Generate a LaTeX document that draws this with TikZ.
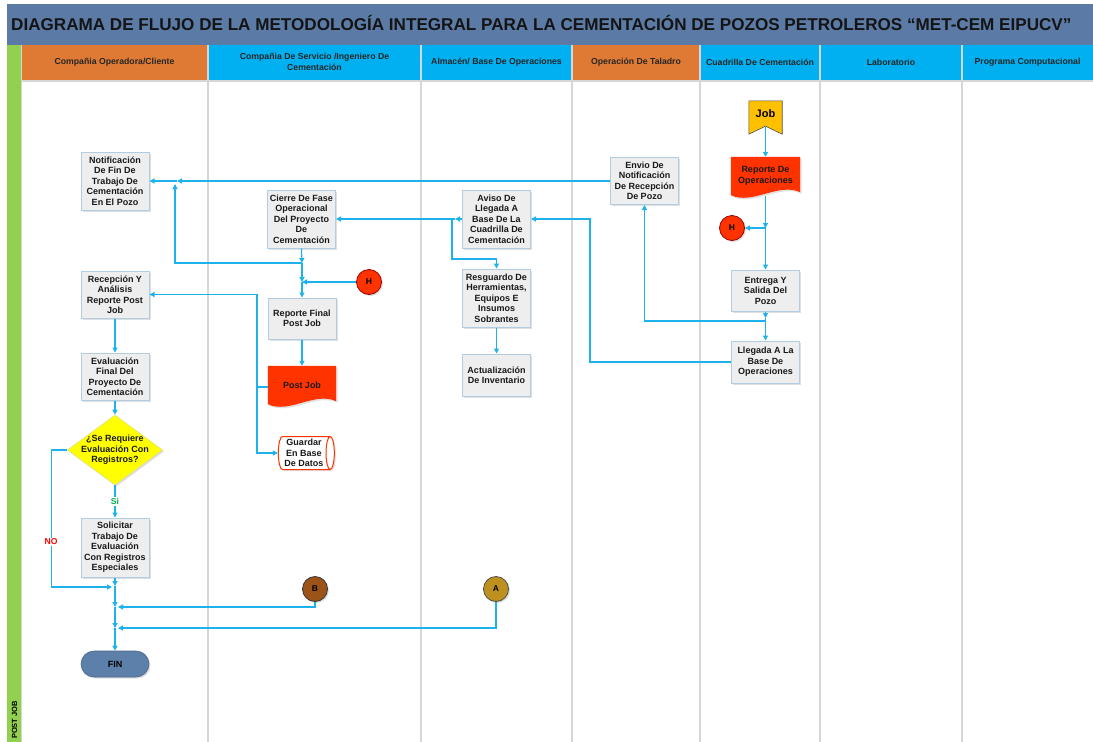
\documentclass[tikz,border=0pt]{standalone}
\usepackage{fontspec}
\setmainfont{Liberation Sans}
\usetikzlibrary{arrows.meta,shapes.geometric,shadows}
\definecolor{titleblue}{RGB}{91,123,166}
\definecolor{hdrorange}{RGB}{222,122,52}
\definecolor{hdrblue}{RGB}{0,176,240}
\definecolor{stripgreen}{RGB}{146,208,80}
\definecolor{lanegray}{RGB}{214,214,214}
\definecolor{boxfill}{RGB}{238,238,238}
\definecolor{boxdraw}{RGB}{178,204,226}
\definecolor{conncol}{RGB}{30,178,236}
\definecolor{docred}{RGB}{255,51,0}
\definecolor{bbrown}{RGB}{156,83,24}
\definecolor{agold}{RGB}{190,144,32}
\definecolor{jobyellow}{RGB}{255,192,0}
\definecolor{finblue}{RGB}{93,128,171}
\definecolor{siggreen}{RGB}{0,176,80}
\definecolor{diayellow}{RGB}{255,255,0}
\pgfdeclarelayer{lanes}
\pgfdeclarelayer{background}
\pgfsetlayers{lanes,background,main}
\newcommand{\docshape}[1]{%
  \path[fill=docred, drop shadow={opacity=0.25,shadow xshift=1.5pt,shadow yshift=-1.5pt}]
    (#1.north west) -- (#1.north east) -- ([yshift=3pt]#1.south east)
    .. controls ([xshift=-22pt,yshift=13pt]#1.south east) and ([xshift=22pt,yshift=-10pt]#1.south west) ..
    (#1.south west) -- cycle;}
\begin{document}
\begin{tikzpicture}[x=1pt,y=-1pt,
  shad/.style={drop shadow={opacity=0.25,shadow xshift=1.5pt,shadow yshift=-1.5pt}},
  txt/.style={font=\fontsize{9}{10.5}\selectfont\bfseries, text=black!90, align=center},
  proc/.style={txt, draw=boxdraw, line width=1pt, fill=boxfill, minimum width=68pt, inner sep=1pt, shad},
  docbox/.style={txt, inner sep=0pt},
  hdr/.style={font=\fontsize{8.7}{10.4}\selectfont\bfseries, text=black!85, align=center},
  conn/.style={draw=conncol, line width=1.1pt, -{Triangle[length=5pt,width=5pt]}},
  circ/.style={circle, minimum size=25pt, inner sep=0pt, line width=0.8pt, font=\fontsize{8.5}{9}\selectfont\bfseries, shad},
  lbl/.style={font=\fontsize{8.6}{9}\selectfont\bfseries, fill=white, inner sep=1pt}]
\useasboundingbox (0,0) rectangle (1093,742);
\begin{pgfonlayer}{lanes}
\fill[white] (0,0) rectangle (1093,742);
\fill[titleblue] (7,4) rectangle (1093,45);
\fill[stripgreen] (7,45) rectangle (21,742);
\fill[hdrorange] (21,45) rectangle (208,80);
\fill[hdrblue] (208,45) rectangle (572,80);
\fill[hdrorange] (572,45) rectangle (700,80);
\fill[hdrblue] (700,45) rectangle (1093,80);
\draw[lanegray, line width=1.5pt] (21,81) -- (1093,81);
\foreach \x in {208,421,572,700,820,962} \draw[lanegray, line width=1.8pt] (\x,45) -- (\x,742);
\draw[lanegray, line width=1pt] (21.5,45) -- (21.5,742);
\end{pgfonlayer}

% title and headers
\node[anchor=west, inner sep=0pt, font=\fontsize{17.1}{20}\selectfont\bfseries, text=black!92] (title) at (11,23)
  {DIAGRAMA DE FLUJO DE LA METODOLOGÍA INTEGRAL PARA LA CEMENTACIÓN DE POZOS PETROLEROS “MET-CEM EIPUCV”};
\node[hdr] (h1) at (114.5,62) {Compañia Operadora/Cliente};
\node[hdr] (h2) at (314.5,62) {Compañia De Servicio /Ingeniero De\\Cementación};
\node[hdr] (h3) at (496.5,62) {Almacén/ Base De Operaciones};
\node[hdr] (h4) at (636,62) {Operación De Taladro};
\node[hdr] (h5) at (760,62) {Cuadrilla De Cementación};
\node[hdr] (h6) at (891,62) {Laboratorio};
\node[hdr] (h7) at (1027.5,62) {Programa Computacional};
\node[rotate=90, font=\fontsize{7.5}{9}\selectfont\bfseries, inner sep=0pt] (postjoblane) at (14.5,720) {POST JOB};

% process boxes
\node[proc, minimum height=58pt] (notif) at (115,181) {Notificación\\De Fin De\\Trabajo De\\Cementación\\En El Pozo};
\node[proc, minimum height=58pt] (cierre) at (301.5,219) {Cierre De Fase\\Operacional\\Del Proyecto\\De\\Cementación};
\node[proc, minimum height=47pt] (recep) at (115,294.5) {Recepción Y\\Análisis\\Reporte Post\\Job};
\node[proc, minimum height=41pt] (repfin) at (302,318.5) {Reporte Final\\Post Job};
\node[proc, minimum height=47pt] (evalf) at (115,376.5) {Evaluación\\Final Del\\Proyecto De\\Cementación};
\node[proc, minimum height=59pt] (solic) at (115,547.5) {Solicitar\\Trabajo De\\Evaluación\\Con Registros\\Especiales};
\node[proc, minimum height=58pt] (aviso) at (496.5,219) {Aviso De\\Llegada A\\Base De La\\Cuadrilla De\\Cementación};
\node[proc, minimum height=58pt] (resg) at (496.5,298) {Resguardo De\\Herramientas,\\Equipos E\\Insumos\\Sobrantes};
\node[proc, minimum height=42pt] (actu) at (496.5,375) {Actualización\\De Inventario};
\node[proc, minimum height=47pt] (envio) at (644.5,181) {Envio De\\Notificación\\De Recepción\\De Pozo};
\node[proc, minimum height=41pt] (entrega) at (765.5,290.5) {Entrega Y\\Salida Del\\Pozo};
\node[proc, minimum height=42pt] (llegada) at (765.5,362) {Llegada A La\\Base De\\Operaciones};

% documents
\node[docbox, minimum width=69pt, minimum height=38pt] (repops) at (765.5,176) {Reporte De\\Operaciones};
\node[docbox, minimum width=68pt, minimum height=38pt] (pj) at (302,385) {Post Job};
\begin{pgfonlayer}{background}
\docshape{repops}
\docshape{pj}
\end{pgfonlayer}

% job off-page
\node[inner sep=0pt, minimum width=33pt, minimum height=25pt, font=\fontsize{11}{12}\selectfont\bfseries] (job) at (765.5,113.5) {Job};
\begin{pgfonlayer}{background}
\draw[fill=jobyellow, draw=black!70, line width=0.6pt] (job.north west) -- (job.north east) -- ([yshift=-8pt]job.south east) -- (job.south) -- ([yshift=-8pt]job.south west) -- cycle;
\end{pgfonlayer}

% storage
\node[cylinder, shape aspect=0.3, draw=docred, line width=1pt, fill=white, minimum height=56pt, minimum width=33pt, inner sep=0pt, txt, shad] (guard) at (304,453) {Guardar\\En Base\\De Datos};

% decision
\node[diamond, draw={rgb,255:red,225;green,225;blue,120}, line width=0.6pt, fill=diayellow, minimum width=95pt, minimum height=70pt, inner sep=0pt, shad] (dia) at (115,450) {};
\node[txt] (diat) at (115,450) {¿Se Requiere\\Evaluación Con\\Registros?};

% terminator
\node[draw=finblue!80!black, line width=0.6pt, fill=finblue, rounded corners=13pt, minimum width=68pt, minimum height=26pt, font=\fontsize{9}{10}\selectfont\bfseries, shad] (fin) at (115,664) {FIN};

% connectors (circles)
\node[circ, fill=docred, draw=red!60!black] (H1) at (369,282) {H};
\node[circ, fill=docred, draw=red!60!black] (H2) at (732,228) {H};
\node[circ, fill=bbrown, draw=black!80] (B) at (315,589) {B};
\node[circ, fill=agold, draw=black!70] (A) at (496,589) {A};

% junction coordinates
\coordinate (jN) at (177,181);
\coordinate (jNv) at (175,184);
\coordinate (jC1) at (302,263);
\coordinate (jC2) at (302,282);
\coordinate (jL) at (590,219);
\coordinate (jAv) at (455,219);
\coordinate (jRes) at (496.5,259);
\coordinate (jR) at (765.5,228);
\coordinate (jE) at (765.5,318);
\coordinate (jP) at (257,387);
\coordinate (jS1) at (115,586);
\coordinate (jNO) at (112,587);
\coordinate (jB) at (115,607);
\coordinate (jBr) at (118,607);
\coordinate (jA) at (115,628);
\coordinate (jAr) at (118,628);

% flows right side
\draw[conn] (job.south) -- (repops.north);
\draw[conn] ([yshift=-1pt]repops.south) -- (jR);
\draw[conn] (jR) -- (H2.east);
\draw[conn] (jR) -- (entrega.north);
\draw[conn] (entrega.south) -- (jE);
\draw[conn] ([yshift=-3pt]jE) -| (envio.south);
\draw[conn] (jE) -- (llegada.north);
\draw[conn] (llegada.west) -| (jL) -- (aviso.east);
\draw[conn] (aviso.west) -- (jAv);
\draw[conn] (jAv) -- (cierre.east);
\draw[conn] ([xshift=-3pt]jAv) |- (jRes) -- (resg.north);
\draw[conn] (resg.south) -- (actu.north);
\draw[conn] (envio.west) -- (jN);
\draw[conn] (jN) -- (notif.east);

% lane 2
\draw[conn] (cierre.south) -- (jC1);
\draw[conn] (jC1) -| (jNv);
\draw[conn] (jC1) -- (jC2);
\draw[conn] (H1.west) -- (jC2);
\draw[conn] (jC2) -- (repfin.north);
\draw[conn] (repfin.south) -- (pj.north);
\draw[conn] (pj.west |- jP) -- (jP) |- (recep.east);
\draw[conn] (jP) |- (guard.west);

% lane 1
\draw[conn] (recep.south) -- (evalf.north);
\draw[conn] (evalf.south) -- (dia.north);
\draw[conn] (dia.south) -- node[lbl, text=siggreen] (si) {Si} (solic.north);
\draw[conn] (dia.west) -- ++(-16,0) |- (jNO);
\node[lbl, text=red] (no) at (51,542) {NO};
\draw[conn] (solic.south) -- (jS1);
\draw[conn] (jS1) -- (jB);
\draw[conn] (B.south) |- (jBr);
\draw[conn] (jB) -- (jA);
\draw[conn] (A.south) |- (jAr);
\draw[conn] (jA) -- (fin.north);
\end{tikzpicture}
\end{document}
